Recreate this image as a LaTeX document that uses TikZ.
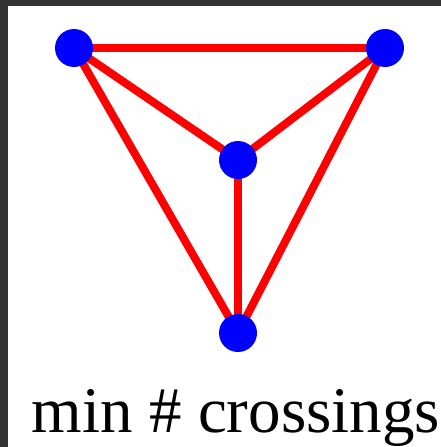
\documentclass[tikz,border=0pt]{standalone}
\usepackage{fontspec}
\setmainfont{Liberation Serif}
\usetikzlibrary{positioning}
\pgfdeclarelayer{background}
\pgfsetlayers{background,main}

\begin{document}
\begin{tikzpicture}[x=1pt, y=-1pt,
    vtx/.style={circle, fill=blue, inner sep=0pt, minimum size=38pt},
    edge/.style={red, line width=8pt}]
    % Frame
    \useasboundingbox (0,0) rectangle (441,447);

    % Vertices
    \node[vtx] (tl) at (74,48) {};
    \node[vtx] (tr) at (385,48) {};
    \node[vtx] (mid) at (238,160) {};
    \node[vtx] (bot) at (238,333) {};

    % Edges
    \begin{pgfonlayer}{background}
        \fill[white] (0,0) rectangle (441,447);
        \fill[black!80] (0,0) rectangle (441,6);
        \fill[black!80] (0,0) rectangle (8,447);
        \foreach \a/\b in {tl/tr, tl/mid, tr/mid, tl/bot, tr/bot, mid/bot}
            \draw[edge] (\a.center) -- (\b.center);
    \end{pgfonlayer}

    % Caption
    \node[anchor=base, font=\fontsize{65}{65}\selectfont] (cap) at (236,432) {min \# crossings};
\end{tikzpicture}
\end{document}
